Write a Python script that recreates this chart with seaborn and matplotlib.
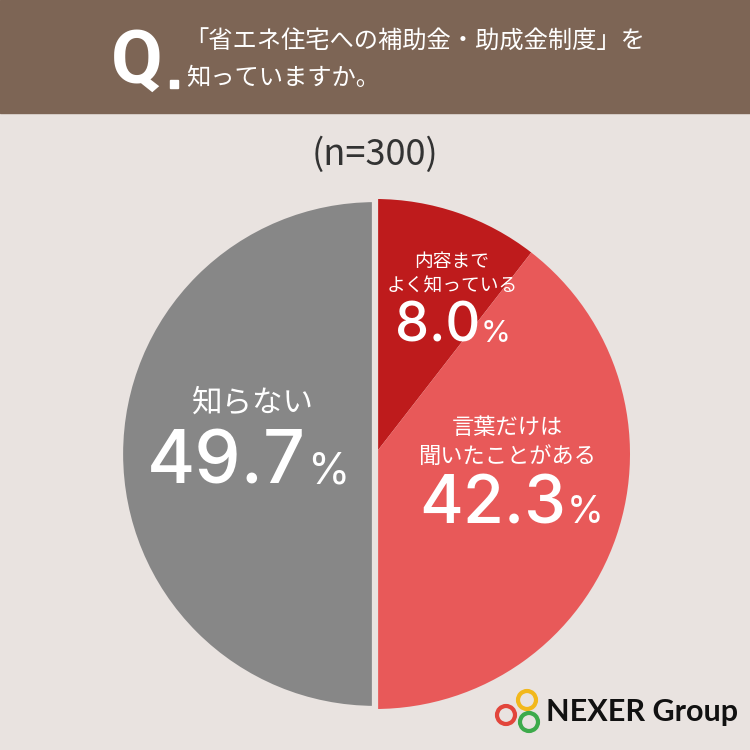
import seaborn as sns
import matplotlib.pyplot as plt
from matplotlib.patches import Circle, Rectangle

# survey answers, clockwise from 12 o'clock
labels = ['内容まで\nよく知っている', '言葉だけは\n聞いたことがある', '知らない']
shares = [8.0, 42.3, 49.7]
# slice sizes as drawn in the picture (the artwork is not exactly proportional)
slice_sizes = [10.5, 39.5, 50.0]
colors = ['#BE1B1C', '#E85959', '#878787']
title_lines = ['「省エネ住宅への補助金・助成金制度」を', '知っていますか。']
sample = '(n=300)'

BG = '#E9E3E0'
HEAD = '#7D6555'

sns.set_theme(style='white')
plt.rcParams['font.family'] = ['Noto Sans CJK JP', 'DejaVu Sans']

fig = plt.figure(figsize=(7.5, 7.5), dpi=100)
fig.patch.set_facecolor(BG)

# pie
ax = fig.add_axes([(375 - 255) / 750, (750 - 454 - 255) / 750, 510 / 750, 510 / 750])
ax.set_facecolor('none')
pal = sns.color_palette(colors)
wedges, _ = ax.pie(slice_sizes, colors=pal, startangle=90, counterclock=False,
                   radius=1.0, wedgeprops=dict(linewidth=0))
wedges[2].set_edgecolor(BG)
wedges[2].set_linewidth(4.5)
ax.set_xlim(-1, 1)
ax.set_ylim(-1, 1)
ax.set_aspect('equal')
ax.axis('off')

# overlay axes in pixel coordinates for header, texts and logo (on top of the pie)
bg = fig.add_axes([0, 0, 1, 1])
bg.set_zorder(3)
bg.set_xlim(0, 750)
bg.set_ylim(750, 0)
bg.axis('off')
bg.add_patch(Rectangle((0, 0), 750, 113, color=HEAD, zorder=0))
bg.text(137, 83, 'Q', fontsize=54, fontweight='bold', color='white',
        family=['Roboto', 'DejaVu Sans'], ha='center', va='baseline')
bg.add_patch(Rectangle((170, 80), 8, 8, color='white'))
bg.text(184, 42, title_lines[0], fontsize=17.5, color='white', va='center')
bg.text(186, 78, title_lines[1], fontsize=17.5, color='white', va='center')
bg.text(375, 155, sample, fontsize=26, color='#333333', ha='center', va='center')

# labels: (name center x, first name line y, name size, split x, number baseline y, num size, pct size)
spec = [
    (452, 262, 13.5, 480, 342, 39, 22),
    (507, 428, 16, 566, 523, 48, 27),
    (253, 403, 22, 306, 483, 53, 31),
]
for lab, val, (nx, ny, ns, sx, by, s1, s2) in zip(labels, shares, spec):
    lines = lab.split('\n')
    gap = ns * 1.75
    for i, ln in enumerate(lines):
        bg.text(nx, ny + i * gap, ln, fontsize=ns, color='white', ha='center', va='center')
    bg.text(sx, by, f'{val:.1f}', fontsize=s1, color='white', ha='right',
            va='baseline', fontweight='medium', family=['Inter', 'DejaVu Sans'])
    bg.text(sx + 1, by, '%', fontsize=s2, color='white', ha='left', va='baseline',
            fontweight='normal', family=['Inter', 'DejaVu Sans'])

# logo
for (cx, cy), c in zip([(527, 700), (506, 715), (529, 722)], ['#F2B81C', '#E2463C', '#3DAA4B']):
    bg.add_patch(Circle((cx, cy), 9, fill=False, edgecolor=c, linewidth=3))
bg.text(546, 712, 'NEXER Group', fontsize=22, fontweight='bold', color='#111111',
        family=['Lato', 'DejaVu Sans'], ha='left', va='center')

fig.savefig('out.png', dpi=100, facecolor=BG)
